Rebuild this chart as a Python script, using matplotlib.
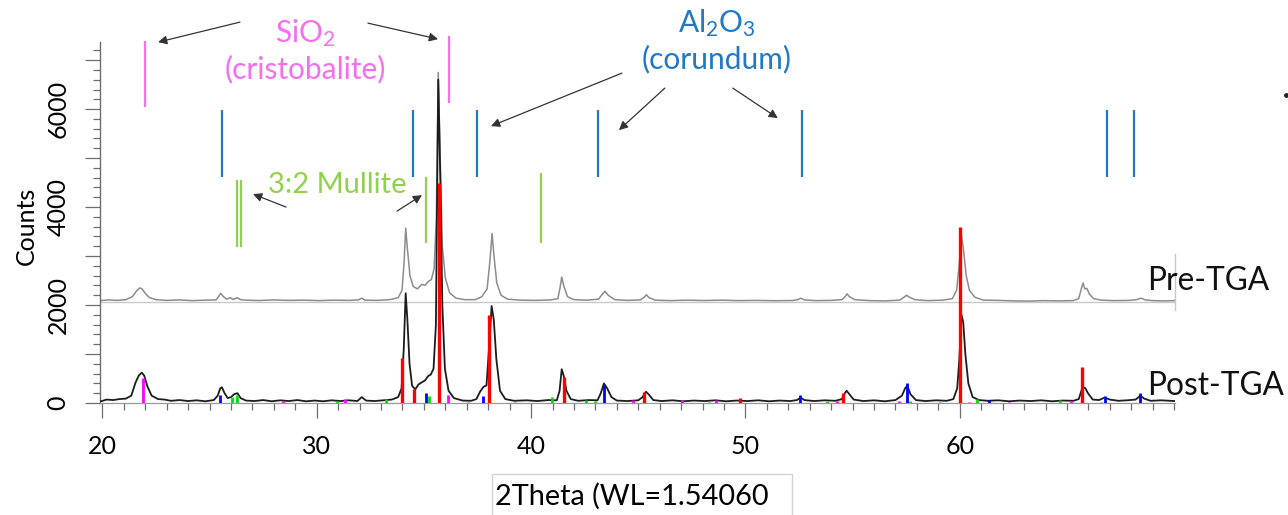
import matplotlib
matplotlib.use("Agg")
import matplotlib.pyplot as plt
from matplotlib.patches import Rectangle
from matplotlib.lines import Line2D
from matplotlib.ticker import MultipleLocator, FuncFormatter

plt.rcParams["font.family"] = ["Lato", "DejaVu Sans"]
plt.rcParams["mathtext.default"] = "regular"

# ---- measured patterns (2theta in degrees, intensity in counts) ----
pre_theta = [19.9, 20.3, 20.7, 21.1, 21.4, 21.6, 21.75, 21.85, 22.0, 22.2, 22.5, 23.0,
             23.6, 24.2, 24.8, 25.3, 25.42, 25.52, 25.65, 25.8, 25.96, 26.1, 26.3, 26.45,
             26.7, 27.3, 28.0, 28.7, 29.4, 30.1, 30.8, 31.5, 31.95, 32.1, 32.25, 32.8,
             33.4, 33.8, 33.98, 34.08, 34.15, 34.22, 34.35, 34.5, 34.7, 34.9, 35.05, 35.2,
             35.35, 35.48, 35.58, 35.67, 35.76, 35.86, 36.0, 36.2, 36.5, 36.9, 37.4, 37.7,
             37.95, 38.08, 38.18, 38.27, 38.4, 38.6, 38.9, 39.5, 40.2, 40.9, 41.25, 41.35,
             41.43, 41.52, 41.7, 42.0, 42.6, 43.15, 43.32, 43.45, 43.6, 43.9, 44.5, 45.1,
             45.28, 45.38, 45.5, 45.8, 46.5, 47.3, 48.1, 48.9, 49.7, 50.5, 51.3, 52.2,
             52.45, 52.58, 52.75, 53.3, 54.0, 54.5, 54.65, 54.74, 54.85, 55.1, 55.8, 56.5,
             57.2, 57.4, 57.52, 57.65, 57.9, 58.5, 59.2, 59.65, 59.85, 59.97, 60.08, 60.18,
             60.3, 60.45, 60.7, 61.1, 61.8, 62.5, 63.2, 63.9, 64.6, 65.3, 65.55, 65.68,
             65.75, 65.83, 65.93, 66.05, 66.25, 66.6, 67.2, 67.9, 68.25, 68.45, 68.65, 69.0,
             69.5, 70.04]
pre_counts = [2090, 2105, 2095, 2110, 2170, 2290, 2350, 2330, 2240, 2150, 2110, 2095,
              2105, 2090, 2100, 2105, 2170, 2240, 2170, 2120, 2150, 2115, 2150, 2110,
              2100, 2092, 2105, 2095, 2100, 2090, 2100, 2095, 2105, 2140, 2100, 2095,
              2110, 2150, 2300, 2900, 3570, 3200, 2600, 2380, 2330, 2420, 2400, 2480,
              2520, 2750, 3800, 6750, 5000, 3200, 2550, 2250, 2140, 2110, 2110, 2170,
              2330, 2900, 3460, 3000, 2450, 2200, 2120, 2100, 2095, 2105, 2130, 2350,
              2570, 2400, 2170, 2110, 2100, 2120, 2220, 2280, 2200, 2110, 2095, 2105,
              2160, 2210, 2150, 2100, 2090, 2100, 2092, 2100, 2090, 2095, 2088, 2092,
              2110, 2140, 2105, 2090, 2095, 2110, 2170, 2230, 2170, 2110, 2090, 2085,
              2100, 2160, 2200, 2160, 2110, 2090, 2100, 2130, 2300, 2800, 3430, 3100,
              2600, 2300, 2160, 2100, 2095, 2085, 2080, 2090, 2085, 2090, 2130, 2350,
              2450, 2330, 2340, 2220, 2130, 2100, 2090, 2095, 2110, 2140, 2105, 2090,
              2085, 2090]

post_theta = [19.9, 20.2, 20.5, 20.8, 21.1, 21.35, 21.55, 21.7, 21.84, 21.95, 22.1, 22.3,
              22.6, 22.9, 23.2, 23.6, 24.0, 24.4, 24.8, 25.2, 25.38, 25.5, 25.58, 25.7,
              25.85, 26.0, 26.15, 26.3, 26.45, 26.7, 27.1, 27.5, 27.9, 28.3, 28.7, 29.1,
              29.5, 29.9, 30.3, 30.7, 31.1, 31.5, 31.9, 32.1, 32.3, 32.7, 33.1, 33.5,
              33.8, 33.96, 34.06, 34.15, 34.23, 34.33, 34.45, 34.6, 34.75, 34.9, 35.05, 35.2,
              35.32, 35.45, 35.56, 35.67, 35.77, 35.86, 35.98, 36.15, 36.4, 36.8, 37.2, 37.45,
              37.62, 37.78, 37.92, 38.05, 38.16, 38.26, 38.38, 38.55, 38.8, 39.2, 39.8, 40.3,
              40.8, 41.2, 41.33, 41.43, 41.52, 41.65, 41.85, 42.2, 42.7, 43.1, 43.25, 43.4,
              43.55, 43.75, 44.0, 44.5, 45.0, 45.2, 45.36, 45.5, 45.7, 46.1, 46.6, 47.1,
              47.6, 48.1, 48.6, 49.1, 49.6, 50.1, 50.6, 51.1, 51.6, 52.1, 52.4, 52.58,
              52.75, 53.2, 53.7, 54.2, 54.5, 54.64, 54.72, 54.85, 55.05, 55.5, 56.0, 56.5,
              57.0, 57.3, 57.45, 57.55, 57.7, 57.95, 58.4, 58.9, 59.4, 59.7, 59.88, 59.98,
              60.08, 60.16, 60.26, 60.4, 60.6, 60.9, 61.3, 61.8, 62.3, 62.8, 63.3, 63.8,
              64.3, 64.8, 65.3, 65.55, 65.68, 65.75, 65.86, 65.98, 66.2, 66.5, 66.75, 67.0,
              67.4, 67.8, 68.2, 68.43, 68.6, 68.9, 69.4, 70.04]
post_counts = [30, 70, 60, 80, 90, 150, 420, 560, 620, 560, 340, 150,
               80, 70, 45, 60, 40, 55, 35, 60, 150, 300, 320, 200,
               100, 120, 180, 200, 100, 50, 40, 60, 35, 55, 40, 60,
               35, 50, 35, 55, 40, 55, 40, 120, 50, 40, 55, 70,
               120, 300, 1100, 2240, 1700, 800, 350, 280, 380, 420, 460, 550,
               580, 700, 1600, 6600, 4500, 2000, 700, 250, 100, 50, 45, 80,
               230, 330, 360, 1200, 1980, 1700, 900, 250, 80, 45, 55, 40,
               60, 55, 250, 690, 560, 250, 80, 45, 60, 55, 200, 400,
               300, 120, 50, 40, 55, 120, 230, 170, 60, 40, 55, 35,
               50, 40, 55, 35, 50, 40, 55, 35, 50, 40, 60, 110,
               60, 40, 55, 45, 80, 200, 250, 180, 70, 40, 55, 35,
               60, 150, 300, 350, 180, 60, 40, 55, 45, 80, 300, 900,
               1800, 1650, 1000, 400, 120, 60, 45, 55, 35, 50, 40, 55,
               35, 50, 45, 80, 260, 330, 300, 200, 70, 60, 110, 70,
               45, 55, 70, 150, 90, 45, 55, 40]

# ---- phase-match sticks under the post-TGA pattern ----
red_pos = [34.00, 34.54, 35.70, 38.05, 41.55, 45.28, 49.74, 54.55, 60.03, 65.72]
red_h = [920, 290, 4490, 1800, 540, 230, 100, 200, 3590, 735]
blue_pos = [25.49, 35.10, 37.74, 43.42, 52.54, 57.52, 61.36, 66.77, 68.43]
blue_h = [160, 200, 150, 370, 160, 400, 60, 150, 200]
green_pos = [26.03, 26.27, 30.93, 33.23, 35.24, 37.06, 39.25, 40.96, 42.56, 42.98,
             48.30, 53.79, 57.67, 60.80, 64.67, 66.60]
green_h = [130, 170, 50, 90, 150, 30, 30, 120, 60, 40, 30, 40, 40, 80, 60, 30]
magenta_pos = [21.91, 28.43, 31.32, 36.12, 44.76, 47.02, 48.62, 54.25, 57.16, 59.07,
               60.43, 62.30, 65.20]
magenta_h = [510, 50, 80, 160, 60, 60, 60, 40, 50, 30, 30, 30, 40]

# ---- reference peak positions of the identified phases ----
sio2_lines = [21.97, 36.17]
al2o3_lines = [25.57, 34.50, 37.46, 43.13, 52.62, 66.86, 68.12]
mullite_lines = [26.27, 26.45, 35.10, 40.46]

y_ticks = [0, 2000, 4000, 6000]
x_ticks = [20, 30, 40, 50, 60]

PINK = "#f56ef0"
BLUE = "#1f78c8"
GREEN = "#92d050"
AXIS = "#6e6e6e"
LABEL_SIZE = 21.5

fig = plt.figure(figsize=(12.88, 5.15), dpi=100)
ax = fig.add_axes([100 / 1288, 112 / 515, 1075 / 1288, 361 / 515])
ax.set_xlim(19.89, 70.04)
ax.set_ylim(0, 7370)

# traces
ax.plot(pre_theta, pre_counts, color="#8c8c8c", lw=1.1, zorder=2)
ax.plot(post_theta, post_counts, color="#1c1c1c", lw=1.3, zorder=3)

# separator line under the pre-TGA trace and its right-hand end mark
ax.plot([19.89, 70.04], [2065, 2065], color="#c8c8c8", lw=1.0, zorder=1)
ax.plot([70.04, 70.04], [1900, 3050], color="#c8c8c8", lw=1.0, zorder=1,
        clip_on=False)

# sticks
ax.vlines(red_pos, 0, red_h, color="#ff0000", lw=2.4, zorder=4)
ax.vlines(blue_pos, 0, blue_h, color="#0000ff", lw=2.0, zorder=4)
ax.vlines(green_pos, 0, green_h, color="#00e000", lw=2.0, zorder=4)
ax.vlines(magenta_pos, 0, magenta_h, color="#ff00ff", lw=2.0, zorder=4)

# phase reference lines above the patterns
ax.vlines(sio2_lines, [6035, 6116], [7394, 7490], color=PINK, lw=1.6,
          clip_on=False, zorder=5)
ax.vlines(al2o3_lines, 4618, 5980, color=BLUE, lw=1.6, clip_on=False, zorder=5)
ax.vlines(mullite_lines, [3190, 3190, 3260, 3265], [4551, 4551, 4618, 4694],
          color=GREEN, lw=1.6, clip_on=False, zorder=5)

# phase labels
ax.text(29.45, 7375, "SiO$_2$", color=PINK, fontsize=LABEL_SIZE, ha="center",
        va="baseline")
ax.text(29.45, 6633, "(cristobalite)", color=PINK, fontsize=LABEL_SIZE,
        ha="center", va="baseline")
ax.text(48.67, 7578, "Al$_2$O$_3$", color=BLUE, fontsize=LABEL_SIZE, ha="center",
        va="baseline")
ax.text(48.67, 6830, "(corundum)", color=BLUE, fontsize=LABEL_SIZE, ha="center",
        va="baseline")
ax.text(30.95, 4292, "3:2 Mullite", color=GREEN, fontsize=LABEL_SIZE - 0.5,
        ha="center", va="baseline")

arrow_kw = dict(arrowstyle="-|>", color="#333333", lw=0.9, mutation_scale=13,
                shrinkA=0, shrinkB=0)
arrows = [((26.42, 7776), (22.60, 7367)),
          ((32.39, 7755), (35.66, 7429)),
          ((28.57, 4000), (27.03, 4265)),
          ((33.75, 3918), (34.91, 4245)),
          ((44.24, 6735), (38.13, 5653)),
          ((46.24, 6429), (44.10, 5571)),
          ((49.41, 6429), (51.51, 5816))]
for start, end in arrows:
    ax.annotate("", xy=end, xytext=start, arrowprops=arrow_kw,
                annotation_clip=False)

ax.text(68.73, 2306, "Pre-TGA", fontsize=22.8, ha="left", va="baseline",
        color="#111111")
ax.text(68.73, 163, "Post-TGA", fontsize=22.8, ha="left", va="baseline",
        color="#111111")

# axes styling
for side in ("top", "right"):
    ax.spines[side].set_visible(False)
ax.spines["left"].set_color(AXIS)
ax.spines["bottom"].set_color("#9a9a9a")
ax.spines["left"].set_linewidth(1.0)
ax.spines["bottom"].set_linewidth(0.9)

ax.xaxis.set_major_locator(MultipleLocator(10))
ax.xaxis.set_minor_locator(MultipleLocator(1))
ax.set_xticks(x_ticks)
ax.set_xticklabels([str(v) for v in x_ticks])
ax.yaxis.set_major_locator(MultipleLocator(1000))
ax.yaxis.set_minor_locator(MultipleLocator(200))
ax.yaxis.set_major_formatter(
    FuncFormatter(lambda v, p: str(int(v)) if int(round(v)) in y_ticks else ""))

ax.tick_params(axis="both", which="both", direction="out", color=AXIS, width=0.9)
ax.tick_params(axis="both", which="major", length=11, labelsize=18)
ax.tick_params(axis="both", which="minor", length=5)
ax.tick_params(axis="x", which="major", pad=12)
ax.tick_params(axis="y", which="major", pad=11, labelrotation=90)
for lab in ax.get_yticklabels():
    lab.set_va("center")

fig.text(26 / 1288, 1 - 226 / 515, "Counts", rotation=90, fontsize=18,
         ha="center", va="center")

# axis title in its frame
fig.add_artist(Rectangle((492 / 1288, -0.05), 300 / 1288, (515 - 474) / 515 + 0.05,
                         transform=fig.transFigure, facecolor="white",
                         edgecolor="#d4d4d4", lw=1.0))
fig.text(495 / 1288, 1 - 496 / 515, "2Theta (WL=1.54060", fontsize=20.8,
         ha="left", va="center")

fig.add_artist(Line2D([1286 / 1288], [1 - 95 / 515], marker="o", markersize=2.5,
                      color="#222222", transform=fig.transFigure))

fig.savefig("out.png", dpi=100, facecolor="white")
